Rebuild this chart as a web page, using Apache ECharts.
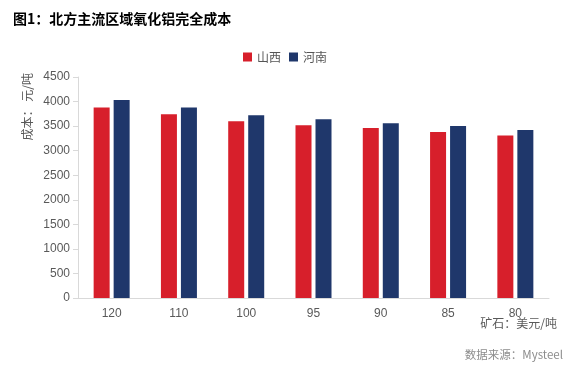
<!DOCTYPE html>
<html><head><meta charset="utf-8">
<script src="https://cdn.jsdelivr.net/npm/echarts@6/dist/echarts.min.js"></script>
<style>html,body{margin:0;padding:0;background:#fff}#c{width:570px;height:371px}</style>
</head><body><div id="c"></div>
<script>
const categories = ['120','110','100','95','90','85','80'];
const shanxi = [3880, 3740, 3600, 3520, 3460, 3380, 3310];
const henan = [4030, 3880, 3720, 3640, 3560, 3500, 3420];
const yTicks = [0,500,1000,1500,2000,2500,3000,3500,4000,4500];

const chart = echarts.init(document.getElementById('c'));
chart.setOption({
  animation:false,
  title:{text:'图1：北方主流区域氧化铝完全成本',left:8,top:7,textStyle:{fontSize:14,fontWeight:'bold',color:'#000',fontFamily:'Noto Sans CJK SC'}},
  legend:{top:46,left:'center',itemWidth:9,itemHeight:9,itemGap:8,icon:'rect',
    textStyle:{fontSize:12,color:'#555',fontFamily:'Noto Sans CJK SC'},data:['山西','河南']},
  grid:{left:78,right:21,top:77,bottom:73,containLabel:false,outerBoundsMode:'none'},
  xAxis:{type:'category',data:categories,
    axisLine:{lineStyle:{color:'#d9d9d9'}},axisTick:{lineStyle:{color:'#d9d9d9'},length:5},
    axisLabel:{color:'#595959',fontSize:12,fontFamily:'Liberation Sans',margin:10}},
  yAxis:{type:'value',min:yTicks[0],max:yTicks[yTicks.length-1],interval:yTicks[1]-yTicks[0],
    axisLine:{show:true,lineStyle:{color:'#d9d9d9'}},axisTick:{show:true,lineStyle:{color:'#d9d9d9'},length:5},
    splitLine:{show:false},
    axisLabel:{color:'#595959',fontSize:12,fontFamily:'Liberation Sans',margin:8,formatter:v=>String(v)}},
  graphic:[
    {type:'text',left:21,top:73,rotation:Math.PI/2,style:{text:'成本： 元/吨',fill:'#595959',font:'12px "Noto Sans CJK SC"'}},
    {type:'text',right:13,top:317,style:{text:'矿石：美元/吨',fill:'#595959',font:'12px "Noto Sans CJK SC"'}},
    {type:'text',right:7,top:349,style:{text:'数据来源：Mysteel',fill:'#8c8c8c',font:'11.5px "Noto Sans CJK SC"'}}
  ],
  series:[
    {name:'山西',type:'bar',data:shanxi,itemStyle:{color:'#D71F2B'},barWidth:16,barGap:'25%'},
    {name:'河南',type:'bar',data:henan,itemStyle:{color:'#1F376B'},barWidth:16,barGap:'25%'}
  ]
});
</script></body></html>
